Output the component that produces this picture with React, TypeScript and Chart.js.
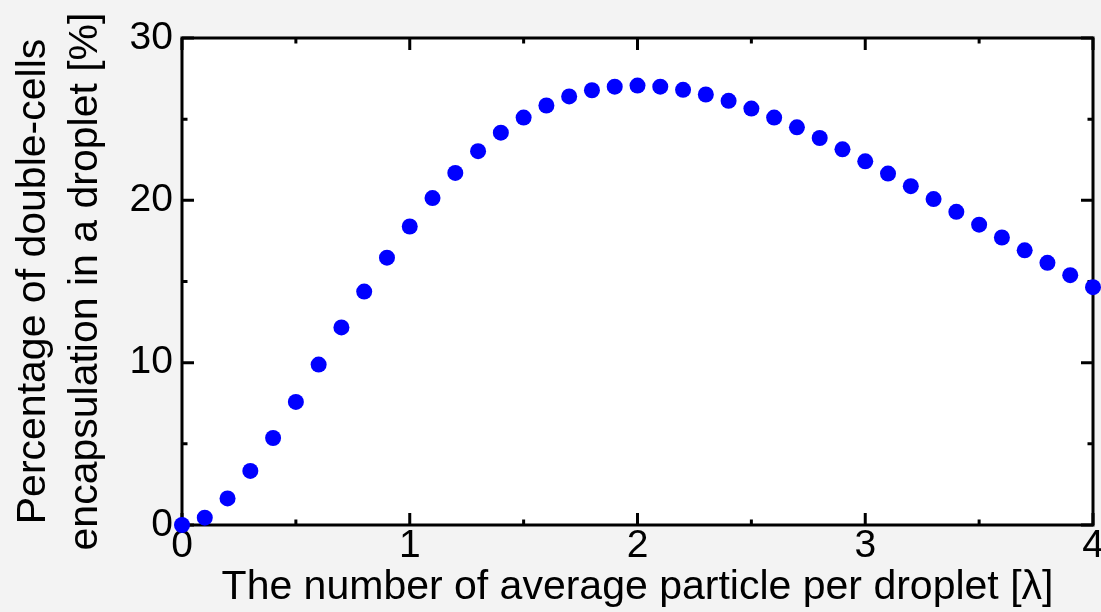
import React, { useEffect, useRef } from "react";
import { Chart, registerables } from "chart.js";

Chart.register(...registerables);

const LAMBDA = [
  0, 0.1, 0.2, 0.3, 0.4, 0.5, 0.6, 0.7, 0.8, 0.9,
  1.0, 1.1, 1.2, 1.3, 1.4, 1.5, 1.6, 1.7, 1.8, 1.9,
  2.0, 2.1, 2.2, 2.3, 2.4, 2.5, 2.6, 2.7, 2.8, 2.9,
  3.0, 3.1, 3.2, 3.3, 3.4, 3.5, 3.6, 3.7, 3.8, 3.9, 4.0,
];
const PERCENT = [
  0, 0.45, 1.64, 3.33, 5.36, 7.58, 9.88, 12.17, 14.38, 16.47,
  18.39, 20.14, 21.69, 23.03, 24.17, 25.1, 25.84, 26.4, 26.78, 27.0,
  27.07, 27.0, 26.81, 26.52, 26.13, 25.65, 25.1, 24.5, 23.84, 23.14,
  22.4, 21.65, 20.87, 20.08, 19.29, 18.5, 17.71, 16.92, 16.15, 15.39, 14.65,
];
const X_TICKS = ["0", "1", "2", "3", "4"];
const Y_TICKS = ["0", "10", "20", "30"];
const X_TITLE = "The number of average particle per droplet [λ]";
const Y_TITLE = ["Percentage of double-cells", "encapsulation in a droplet [%]"];

const X_MIN = 0, X_MAX = 4, X_MAJOR = 1, X_MINOR = 0.5;
const Y_MIN = 0, Y_MAX = 30, Y_MAJOR = 10, Y_MINOR = 5;

const FONT = "'Liberation Sans', Arial, Helvetica, sans-serif";

const framePlugin = {
  id: "frame",
  beforeDraw(chart: any) {
    const { ctx, chartArea: a, width, height } = chart;
    ctx.save();
    ctx.fillStyle = "#f3f3f3";
    ctx.fillRect(0, 0, width, height);
    ctx.fillStyle = "#ffffff";
    ctx.fillRect(a.left, a.top, a.right - a.left, a.bottom - a.top);
    ctx.restore();
  },
  beforeDatasetsDraw(chart: any) {
    const { ctx, chartArea: a, scales } = chart;
    const x = scales.x, y = scales.y;
    ctx.save();
    ctx.strokeStyle = "#000";
    ctx.lineWidth = 3;
    ctx.lineCap = "butt";
    const major = 12, minor = 5.5;
    ctx.beginPath();
    const nx = Math.round((X_MAX - X_MIN) / X_MINOR);
    for (let i = 0; i <= nx; i++) {
      const v = X_MIN + i * X_MINOR;
      const isMajor = Math.abs(v / X_MAJOR - Math.round(v / X_MAJOR)) < 1e-6;
      const len = isMajor ? major : minor;
      const px = x.getPixelForValue(v);
      ctx.moveTo(px, a.bottom);
      ctx.lineTo(px, a.bottom - len);
      ctx.moveTo(px, a.top);
      ctx.lineTo(px, a.top + len);
    }
    const ny = Math.round((Y_MAX - Y_MIN) / Y_MINOR);
    for (let i = 0; i <= ny; i++) {
      const v = Y_MIN + i * Y_MINOR;
      const isMajor = Math.abs(v / Y_MAJOR - Math.round(v / Y_MAJOR)) < 1e-6;
      const len = isMajor ? major : minor;
      const py = y.getPixelForValue(v);
      ctx.moveTo(a.left, py);
      ctx.lineTo(a.left + len, py);
      ctx.moveTo(a.right, py);
      ctx.lineTo(a.right - len, py);
    }
    ctx.stroke();
    ctx.lineJoin = "miter";
    ctx.strokeRect(a.left, a.top, a.right - a.left, a.bottom - a.top);
    ctx.restore();
  },
};

export default function App() {
  const ref = useRef<HTMLCanvasElement>(null);
  useEffect(() => {
    const data = LAMBDA.map((l, i) => ({ x: l, y: PERCENT[i] }));
    const chart = new Chart(ref.current!, {
      type: "scatter",
      data: {
        datasets: [
          {
            data,
            backgroundColor: "#0000ff",
            borderWidth: 0,
            pointRadius: 8,
            pointHoverRadius: 8,
            clip: false as any,
          } as any,
        ],
      },
      options: {
        responsive: false,
        animation: false,
        events: [],
        layout: { padding: { top: 38, right: 7, left: 0, bottom: 0 } },
        plugins: { legend: { display: false }, tooltip: { enabled: false } },
        scales: {
          x: {
            type: "linear",
            min: X_MIN,
            max: X_MAX,
            afterFit: (s: any) => {
              s.height = 87;
              s.paddingLeft = 0;
              s.paddingRight = 0;
            },
            afterBuildTicks: (s: any) => {
              s.ticks = X_TICKS.map((t) => ({ value: Number(t) }));
            },
            grid: { display: false, drawTicks: false },
            border: { display: false },
            ticks: {
              color: "#000",
              padding: 2,
              maxRotation: 0,
              autoSkip: false,
              font: { family: FONT, size: 39, lineHeight: 1 },
              callback: (v: any) => String(v),
            },
            title: {
              display: true,
              text: X_TITLE,
              color: "#000",
              font: { family: FONT, size: 41, lineHeight: 1.2 },
              padding: { top: 0, bottom: 0 },
            },
          },
          y: {
            type: "linear",
            min: Y_MIN,
            max: Y_MAX,
            afterFit: (s: any) => {
              s.width = 182;
              s.paddingTop = 0;
              s.paddingBottom = 0;
            },
            afterBuildTicks: (s: any) => {
              s.ticks = Y_TICKS.map((t) => ({ value: Number(t) }));
            },
            grid: { display: false, drawTicks: false },
            border: { display: false },
            ticks: {
              color: "#000",
              padding: 9,
              autoSkip: false,
              font: { family: FONT, size: 39 },
              callback: (v: any) => String(v),
            },
            title: {
              display: true,
              text: Y_TITLE,
              color: "#000",
              font: { family: FONT, size: 41, lineHeight: 1.27 },
              padding: { top: 8, bottom: 0 },
            },
          },
        },
      },
      plugins: [framePlugin],
    });
    return () => chart.destroy();
  }, []);
  return (
    <div style={{ position: "absolute", left: 0, top: 0, width: 1101, height: 612 }}>
      <canvas ref={ref} width={1101} height={612} style={{ display: "block" }} />
    </div>
  );
}
